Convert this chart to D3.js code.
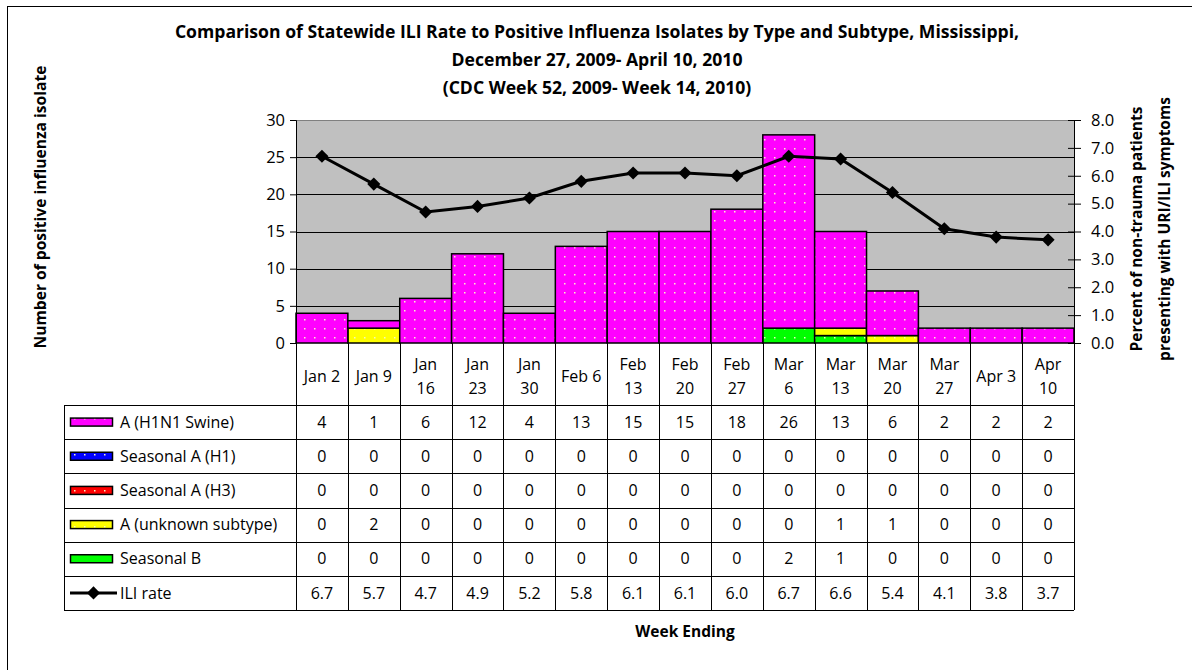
<!DOCTYPE html>
<html>
<head>
<meta charset="utf-8">
<script src="https://cdn.jsdelivr.net/npm/d3@7"></script>
<style>
  body { margin: 0; background: #fff; }
  svg { display: block; font-family: "Open Sans", sans-serif; }
</style>
</head>
<body>
<div id="chart"></div>
<script>
// week ending labels (wrapped the way the original table wraps them)
const weeks = ["Jan 2", "Jan 9", "Jan\n16", "Jan\n23", "Jan\n30", "Feb 6", "Feb\n13", "Feb\n20",
  "Feb\n27", "Mar\n6", "Mar\n13", "Mar\n20", "Mar\n27", "Apr 3", "Apr\n10"];

const h1n1Swine = [4, 1, 6, 12, 4, 13, 15, 15, 18, 26, 13, 6, 2, 2, 2];
const seasonalH1 = [0, 0, 0, 0, 0, 0, 0, 0, 0, 0, 0, 0, 0, 0, 0];
const seasonalH3 = [0, 0, 0, 0, 0, 0, 0, 0, 0, 0, 0, 0, 0, 0, 0];
const unknownSubtype = [0, 2, 0, 0, 0, 0, 0, 0, 0, 0, 1, 1, 0, 0, 0];
const seasonalB = [0, 0, 0, 0, 0, 0, 0, 0, 0, 2, 1, 0, 0, 0, 0];
const iliRate = [6.7, 5.7, 4.7, 4.9, 5.2, 5.8, 6.1, 6.1, 6.0, 6.7, 6.6, 5.4, 4.1, 3.8, 3.7];

const leftTicks = [0, 5, 10, 15, 20, 25, 30];
const rightTicks = [0, 1, 2, 3, 4, 5, 6, 7, 8];

const titleLines = [
  "Comparison of Statewide ILI Rate to Positive Influenza Isolates by Type and Subtype, Mississippi,",
  "December 27, 2009- April 10, 2010",
  "(CDC Week 52, 2009- Week 14, 2010)"
];

// series, table order (top to bottom)
const series = [
  { key: "h1n1", name: "A (H1N1 Swine)", values: h1n1Swine, color: "#ff00ff" },
  { key: "h1", name: "Seasonal A (H1)", values: seasonalH1, color: "#0000ff" },
  { key: "h3", name: "Seasonal A (H3)", values: seasonalH3, color: "#ff0000" },
  { key: "unk", name: "A (unknown subtype)", values: unknownSubtype, color: "#ffff00" },
  { key: "b", name: "Seasonal B", values: seasonalB, color: "#00ff00" }
];

const W = 1192, H = 670;
const plot = { left: 296, right: 1074, top: 120, bottom: 343 };
const table = { left: 64, headBottom: 405, bottom: 610 };
const tableFont = "16px";
const tickFont = "16.5px";

const svg = d3.select("#chart").append("svg").attr("width", W).attr("height", H);

// outer chart border (runs off the right and bottom edges)
svg.append("rect")
  .attr("x", 7.5).attr("y", 6.5).attr("width", 1300).attr("height", 800)
  .attr("fill", "none").attr("stroke", "#000");

// dotted fill patterns
const defs = svg.append("defs");
series.forEach((s) => {
  const p = defs.append("pattern")
    .attr("id", "pat-" + s.key)
    .attr("patternUnits", "userSpaceOnUse")
    .attr("width", 10).attr("height", 9);
  p.append("rect").attr("width", 10).attr("height", 9).attr("fill", s.color);
  p.append("rect").attr("x", 4).attr("y", 4).attr("width", 1.5).attr("height", 1.5)
    .attr("fill", "#f4f4c8");
});

// title
svg.append("g").selectAll("text").data(titleLines).join("text")
  .attr("x", 597).attr("y", (d, i) => 38 + i * 28)
  .attr("text-anchor", "middle")
  .style("font-weight", "bold").style("font-size", "17.6px")
  .text((d) => d);

// scales
const x = d3.scaleBand().domain(d3.range(weeks.length)).range([plot.left, plot.right]).padding(0);
const y = d3.scaleLinear().domain([0, 30]).range([plot.bottom, plot.top]);
const yR = d3.scaleLinear().domain([0, 8]).range([plot.bottom, plot.top]);

// plot background
svg.append("rect")
  .attr("x", plot.left).attr("y", plot.top)
  .attr("width", plot.right - plot.left).attr("height", plot.bottom - plot.top)
  .attr("fill", "#c0c0c0");

// gridlines
svg.append("g").selectAll("line").data(leftTicks.slice(1)).join("line")
  .attr("x1", plot.left).attr("x2", plot.right)
  .attr("y1", (d) => Math.round(y(d)) + 0.5).attr("y2", (d) => Math.round(y(d)) + 0.5)
  .attr("stroke", (d) => d === 30 ? "#808080" : "#000").attr("stroke-width", 1);

// stacked bars
const rows = weeks.map((w, i) => {
  const r = { i: i };
  series.forEach((s) => (r[s.key] = s.values[i]));
  return r;
});
const stackKeys = ["b", "unk", "h3", "h1", "h1n1"];
const stacked = d3.stack().keys(stackKeys)(rows);

svg.append("g").selectAll("g").data(stacked).join("g")
  .attr("fill", (d) => "url(#pat-" + d.key + ")")
  .selectAll("rect")
  .data((d) => d.filter((v) => v[1] - v[0] > 0))
  .join("rect")
  .attr("x", (d) => x(d.data.i))
  .attr("y", (d) => y(d[1]))
  .attr("width", x.bandwidth())
  .attr("height", (d) => y(d[0]) - y(d[1]))
  .attr("stroke", "#000").attr("stroke-width", 1.5);

// left axis
const axL = svg.append("g")
  .attr("transform", `translate(${plot.left},0)`)
  .call(d3.axisLeft(y).tickValues(leftTicks).tickSize(6).tickPadding(5));
axL.selectAll("text").style("font-size", tickFont).style("font-family", "'Open Sans', sans-serif").attr("fill", "#000");
axL.selectAll("line, path").attr("stroke", "#000");

// right axis
const axR = svg.append("g")
  .attr("transform", `translate(${plot.right},0)`)
  .call(d3.axisRight(yR).tickValues(rightTicks).tickFormat(d3.format(".1f")).tickSize(7).tickPadding(10));
axR.selectAll("text").style("font-size", tickFont).style("font-family", "'Open Sans', sans-serif").attr("fill", "#000");
axR.selectAll("line, path").attr("stroke", "#000");
axR.selectAll(".tick line").attr("x1", -6);

// ILI line
const lineGen = d3.line().x((d, i) => x(i) + x.bandwidth() / 2).y((d) => yR(d));
svg.append("path").datum(iliRate)
  .attr("d", lineGen).attr("fill", "none")
  .attr("stroke", "#000").attr("stroke-width", 3);
const diamond = d3.symbol().type(d3.symbolDiamond2).size(110);
svg.append("g").selectAll("path").data(iliRate).join("path")
  .attr("d", diamond)
  .attr("transform", (d, i) => `translate(${x(i) + x.bandwidth() / 2},${yR(d)})`)
  .attr("fill", "#000");

// axis titles
svg.append("text")
  .attr("transform", "translate(46,207) rotate(-90)")
  .attr("text-anchor", "middle")
  .style("font-weight", "bold").style("font-size", "15.6px")
  .text("Number of positive influenza isolate");
svg.append("g").selectAll("text")
  .data(["Percent of non-trauma patients", "presenting with URI/ILI symptoms"]).join("text")
  .attr("transform", (d, i) => `translate(${1142 + i * 28},229) rotate(-90)`)
  .attr("text-anchor", "middle")
  .style("font-weight", "bold").style("font-size", "15.5px")
  .text((d) => d);

// data table
const tableRows = series.map((s) => ({ name: s.name, key: s.key, color: s.color, values: s.values.map(String) }))
  .concat([{ name: "ILI rate", key: "ili", values: iliRate.map((v) => v.toFixed(1)) }]);
const rowH = (table.bottom - table.headBottom) / tableRows.length;
const tg = svg.append("g");

// column lines in header area and table
x.domain().concat([weeks.length]).forEach((i) => {
  const xx = Math.round(i < weeks.length ? x(i) : plot.right) + 0.5;
  tg.append("line").attr("x1", xx).attr("x2", xx)
    .attr("y1", plot.bottom).attr("y2", table.bottom).attr("stroke", "#000");
});
// horizontal rules
d3.range(tableRows.length + 1).forEach((r) => {
  const yy = Math.round(table.headBottom + r * rowH) + 0.5;
  tg.append("line").attr("x1", table.left).attr("x2", plot.right)
    .attr("y1", yy).attr("y2", yy).attr("stroke", "#000");
});
tg.append("line").attr("x1", table.left + 0.5).attr("x2", table.left + 0.5)
  .attr("y1", table.headBottom).attr("y2", table.bottom).attr("stroke", "#000");

// header labels
weeks.forEach((w, i) => {
  const parts = w.split("\n");
  const cx = x(i) + x.bandwidth() / 2;
  const cy = (plot.bottom + table.headBottom) / 2 + 2;
  parts.forEach((p, k) => {
    tg.append("text")
      .attr("x", cx).attr("y", cy + (k - (parts.length - 1) / 2) * 24)
      .attr("dy", "0.35em").attr("text-anchor", "middle")
      .style("font-size", tableFont).text(p);
  });
});

// table rows
tableRows.forEach((r, ri) => {
  const cy = table.headBottom + ri * rowH + rowH / 2;
  if (r.key === "ili") {
    tg.append("line").attr("x1", 70).attr("x2", 117).attr("y1", cy).attr("y2", cy)
      .attr("stroke", "#000").attr("stroke-width", 3);
    tg.append("path").attr("d", diamond).attr("transform", `translate(93.5,${cy})`).attr("fill", "#000");
  } else {
    tg.append("rect").attr("x", 70.5).attr("y", cy - 4).attr("width", 42).attr("height", 8)
      .attr("fill", "url(#pat-" + r.key + ")").attr("stroke", "#000").attr("stroke-width", 1.5);
  }
  tg.append("text").attr("x", 120).attr("y", cy).attr("dy", "0.35em")
    .style("font-size", tableFont).text(r.name);
  r.values.forEach((v, i) => {
    tg.append("text")
      .attr("x", x(i) + x.bandwidth() / 2).attr("y", cy).attr("dy", "0.35em")
      .attr("text-anchor", "middle").style("font-size", tableFont).text(v);
  });
});

// x axis title
svg.append("text")
  .attr("x", 685).attr("y", 632).attr("dy", "0.35em")
  .attr("text-anchor", "middle")
  .style("font-weight", "bold").style("font-size", "15.5px")
  .text("Week Ending");
</script>
</body>
</html>
